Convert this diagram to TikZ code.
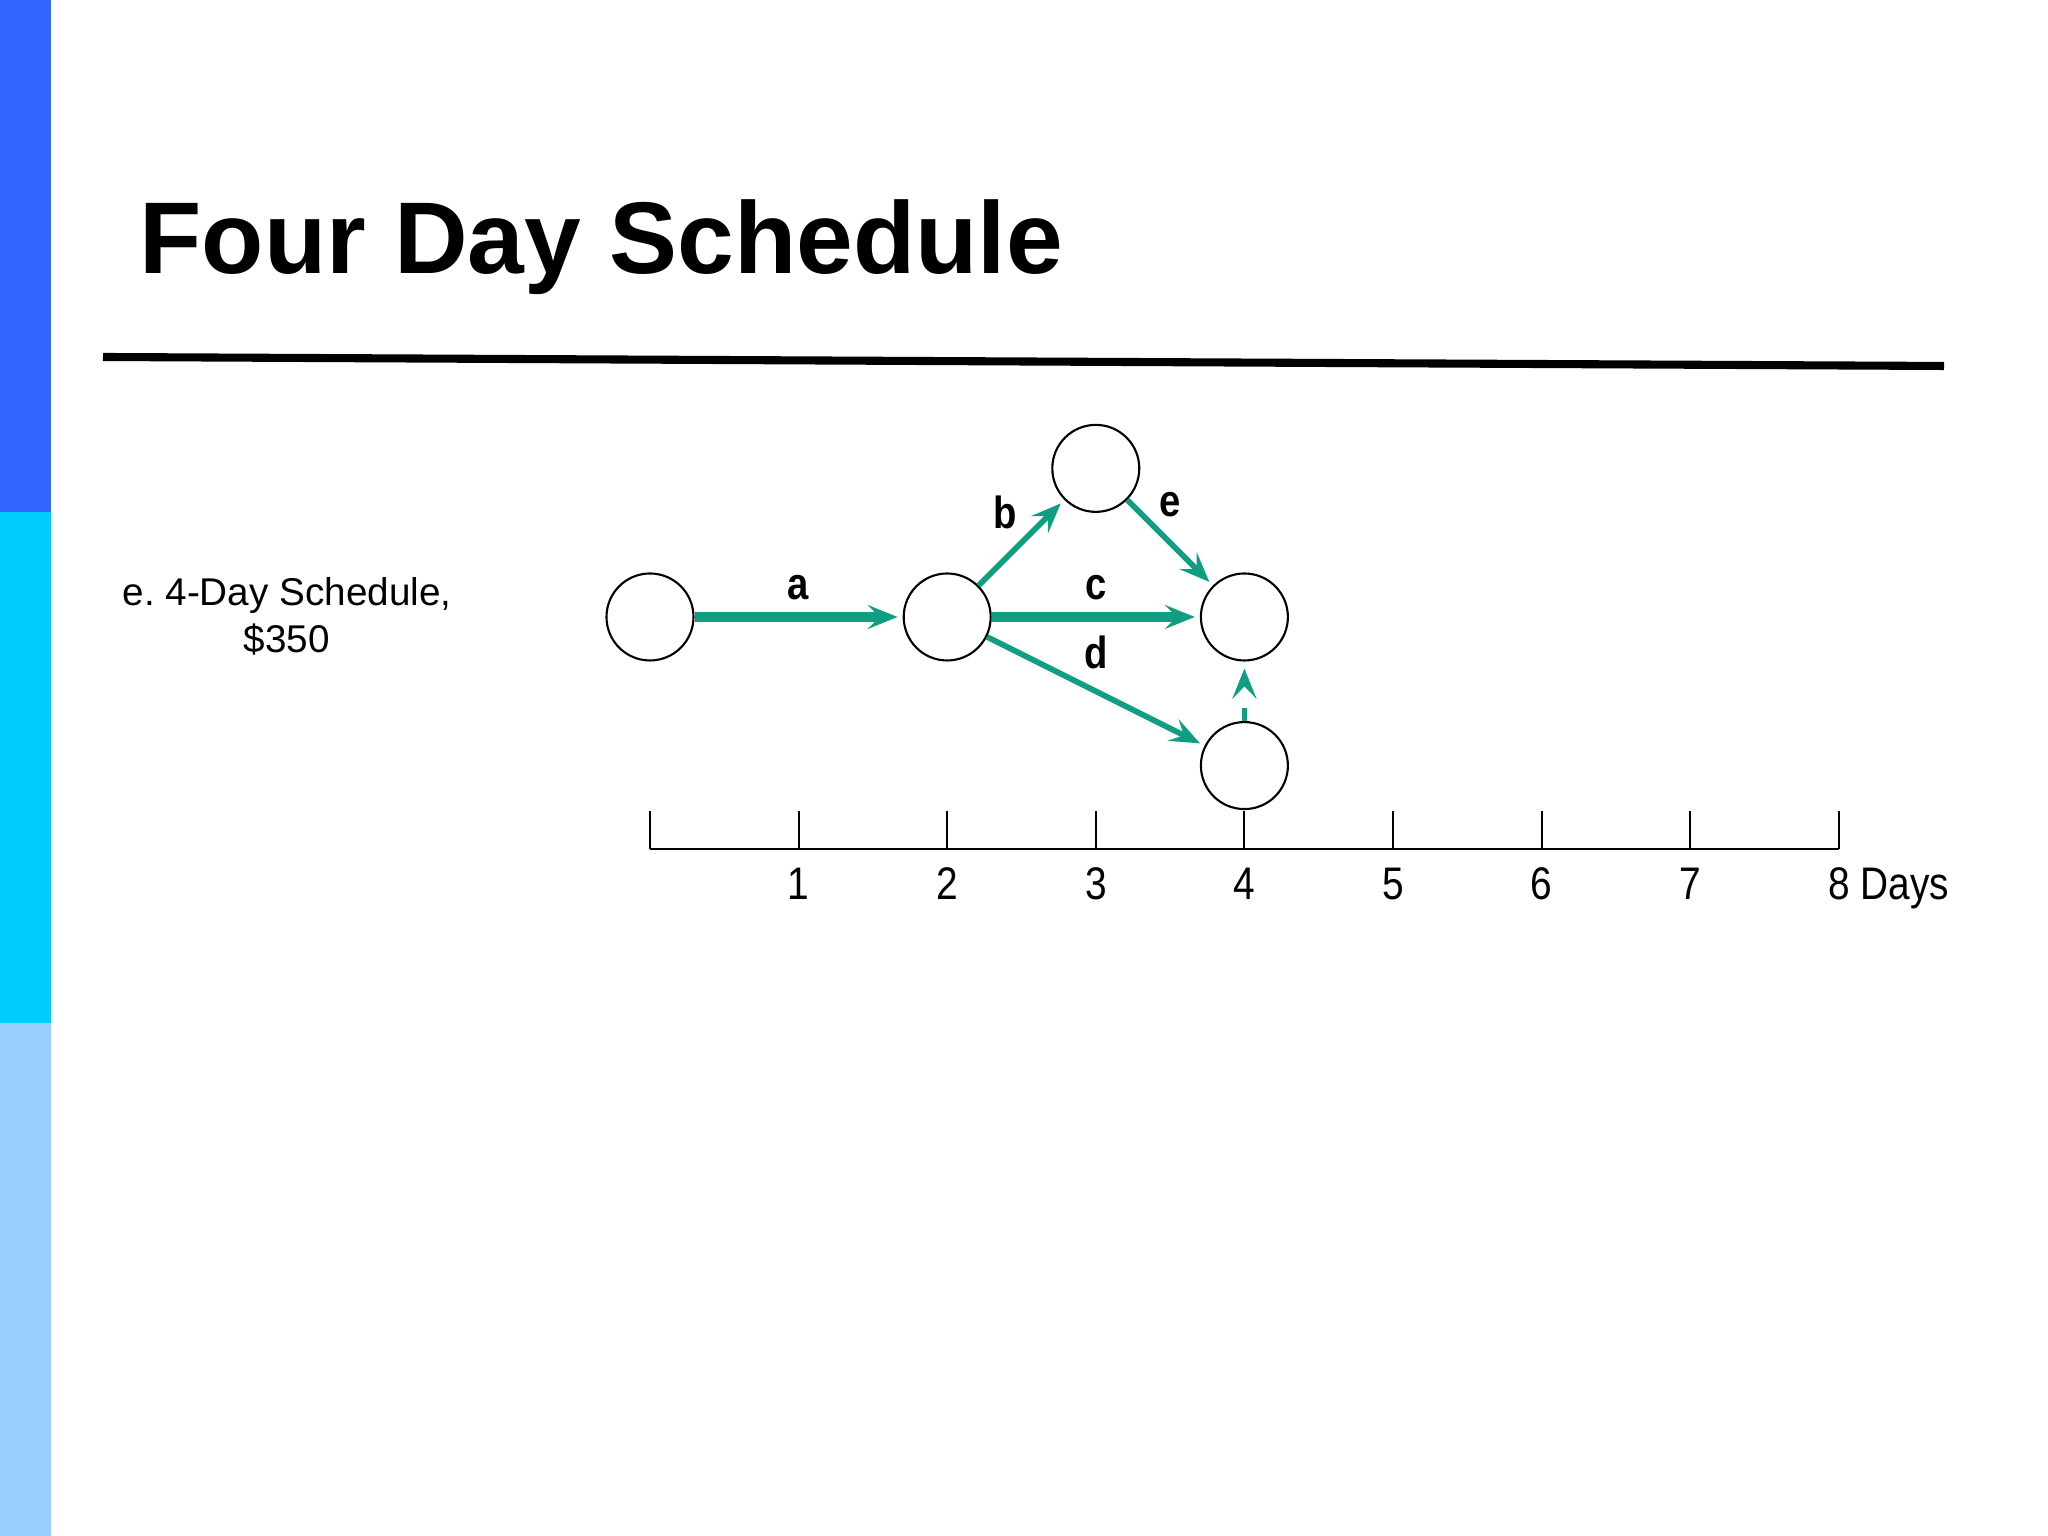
\documentclass[tikz,border=0pt]{standalone}
\usepackage{fontspec}
\setmainfont{Liberation Sans}
\newfontfamily\narrowfont[FakeStretch=0.85]{Liberation Sans}
\usetikzlibrary{arrows.meta}
\definecolor{barblue}{RGB}{51,102,255}
\definecolor{barcyan}{RGB}{0,204,255}
\definecolor{barpale}{RGB}{153,204,255}
\definecolor{actgreen}{RGB}{16,158,130}
\tikzset{
  event/.style={circle, draw, line width=0.6pt, minimum size=0.87cm, inner sep=0pt},
  act/.style={actgreen, line width=1.6pt, ->, >={Stealth[length=0.3cm,width=0.24cm,inset=0.12cm]}, shorten >=0.05cm},
  crit/.style={act, line width=3pt},
  dumarrow/.style={act, line width=1.4pt, dash pattern=on 0.13cm off 1cm, shorten >=0.07cm},
  lbl/.style={black, font=\narrowfont\bfseries\fontsize{12.8}{14}\selectfont, inner sep=0pt, text depth=0pt},
  daylbl/.style={anchor=base, inner sep=0pt, font=\narrowfont\fontsize{13}{15}\selectfont}
}
\begin{document}
\begin{tikzpicture}
\useasboundingbox (0,0) rectangle (20.48,15.36);
% side bars
\fill [barblue] (0,15.36) rectangle (0.51,10.24);
\fill [barcyan] (0,10.24) rectangle (0.51,5.13);
\fill [barpale] (0,5.13) rectangle (0.51,0);
% title and rule
\node [anchor=base west, inner sep=0pt, font=\bfseries\fontsize{29}{35}\selectfont] (title) at (1.39,12.62) {Four Day Schedule};
\draw [line width=2.3pt] (1.03,11.79) -- (19.44,11.70);
\node [anchor=base, inner sep=0pt, align=center, font=\fontsize{11}{13.4}\selectfont] (caption) at (2.87,8.83) {e.\ 4-Day Schedule,\\\$350};
% time scale
\draw [line width=0.8pt] (6.50,6.87) -- (18.39,6.87);
\foreach \i in {0,...,8}
  \draw [line width=0.6pt] (6.50+\i*1.486,6.87) -- ++(0,0.38);
\foreach \i in {1,...,7}
  \node [daylbl] (day\i) at (6.50+\i*1.486,6.36) {\i};
\node [daylbl] (day8) at (18.39,6.36) {8\rlap{ Days}};
% network
\node [event] (n1) at (6.50,9.19) {};
\node [event] (n2) at (9.472,9.19) {};
\node [event] (n3) at (10.958,10.676) {};
\node [event] (n4) at (12.444,9.19) {};
\node [event] (n5) at (12.444,7.704) {};
\draw [crit] (n1) -- node [lbl, above=0.12cm] (la) {a} (n2);
\draw [act] (n2) -- node [lbl, pos=0.5, above left=0.11cm, xshift=0.09cm] (lb) {b} (n3);
\draw [crit] (n2) -- node [lbl, above=0.12cm] (lc) {c} (n4);
\draw [act] (n2) -- node [lbl, above=0.2cm] (ld) {d} (n5);
\draw [act] (n3) -- node [lbl, pos=0.28, above right=0.05cm] (le) {e} (n4);
\draw [dumarrow] (n5) -- (n4);
\end{tikzpicture}
\end{document}
